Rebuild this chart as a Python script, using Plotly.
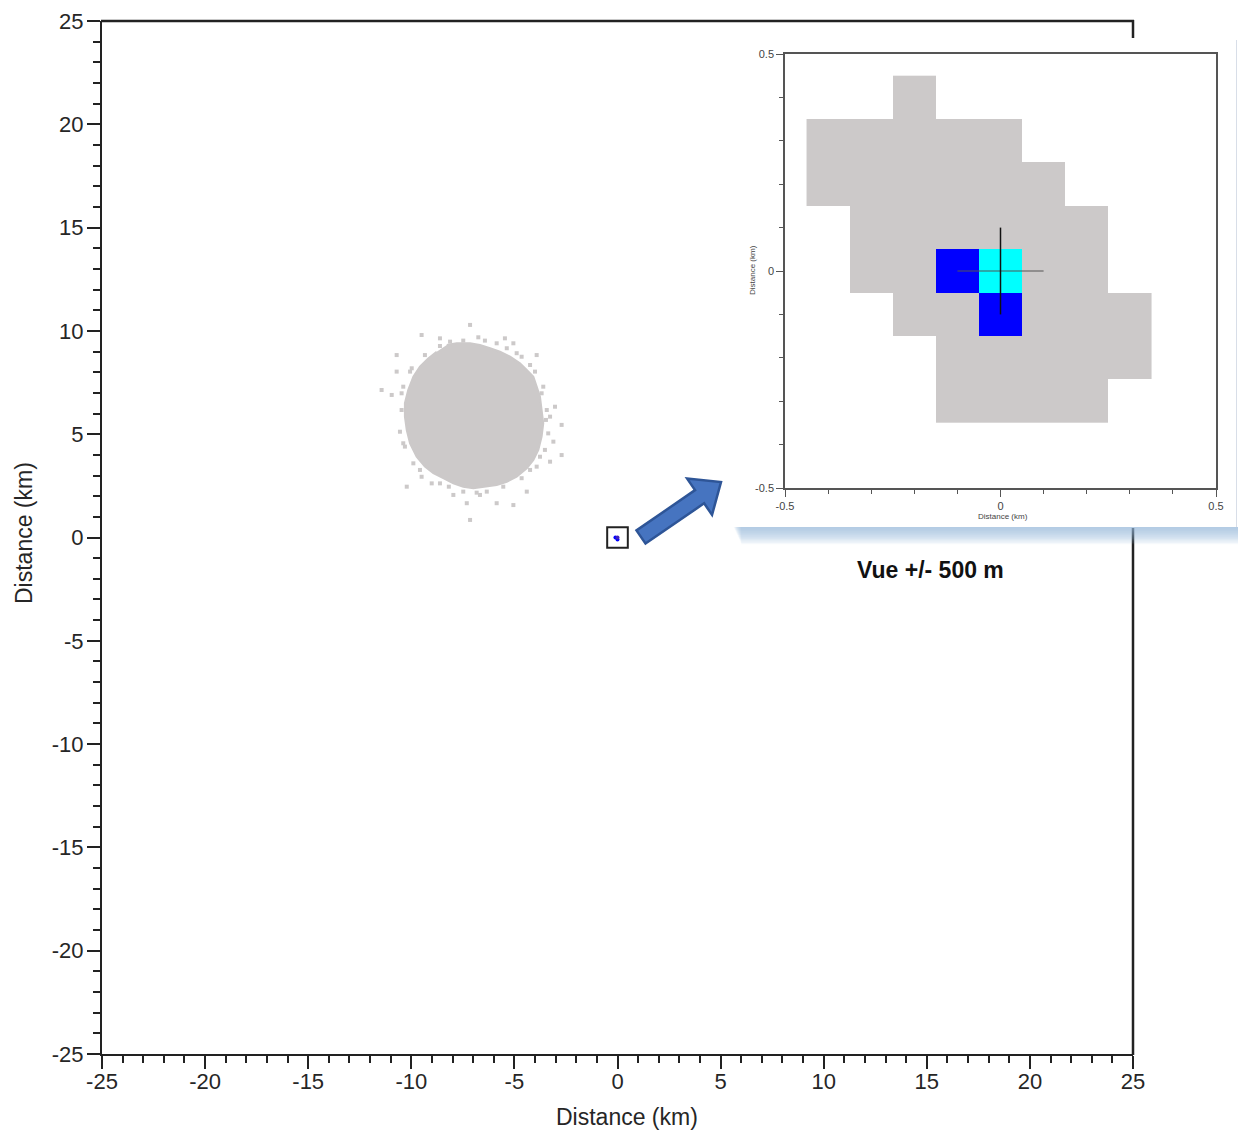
import math
import plotly.graph_objects as go

W, H = 1238, 1131

# ---------------- data (km) ----------------
# outline of the dense grey impact cloud
core_x = [-8.28, -7.80, -7.15, -6.67, -6.18, -5.70, -5.21, -4.73, -4.40, -4.08, -3.92, -3.76,
          -3.68, -3.60, -3.68, -3.84, -4.08, -4.40, -4.89, -5.37, -5.86, -6.34, -6.99, -7.48,
          -7.96, -8.45, -8.93, -9.34, -9.74, -10.06, -10.22, -10.31, -10.31, -10.15, -9.90,
          -9.58, -9.18, -8.77]
core_y = [9.32, 9.40, 9.40, 9.32, 9.16, 8.99, 8.75, 8.43, 8.11, 7.78, 7.30, 6.82,
          6.17, 5.53, 4.88, 4.24, 3.75, 3.35, 2.94, 2.70, 2.54, 2.46, 2.38, 2.46,
          2.62, 2.87, 3.11, 3.43, 3.91, 4.56, 5.20, 5.85, 6.50, 7.14, 7.78,
          8.27, 8.67, 8.99]

# isolated / edge grey points around the cloud
scatter_x = [-7.15, -9.50, -8.61, -6.75, -5.46, -5.05, -10.71, -10.71, -3.92, -11.44, -10.95,
             -3.03, -3.27, -2.71, -10.55, -3.11, -10.31, -2.71, -3.27, -10.22, -9.50, -9.01,
             -7.96, -7.31, -6.67, -5.86, -5.05, -4.40, -7.15,
             -8.12, -5.86, -4.65, -4.24, -3.60, -3.43, -3.36, -3.52, -3.92, -4.65, -6.34,
             -7.48, -8.61, -9.90, -10.47, -10.39, -10.06,
             -10.47, -10.39, -9.58, -8.18, -6.83, -5.54, -4.24, -3.76, -3.47, -3.68, -4.00,
             -4.89, -5.37, -6.43, -7.48, -8.61, -9.34, -9.98]
scatter_y = [10.29, 9.80, 9.64, 9.69, 9.64, 9.40, 8.83, 8.03, 8.83, 7.14, 6.90,
             6.33, 5.85, 5.45, 5.12, 4.64, 4.40, 3.99, 3.67, 2.46, 2.94, 2.62,
             2.06, 1.66, 2.06, 1.66, 1.57, 2.22, 0.85,
             9.48, 9.40, 8.75, 8.35, 7.30, 6.17, 5.04, 4.24, 3.43, 2.87, 2.22,
             2.22, 2.62, 3.59, 6.17, 7.30, 8.03,
             6.98, 4.56, 3.27, 2.46, 2.17, 2.46, 3.27, 3.91, 5.69, 6.98, 8.03,
             8.92, 9.16, 9.53, 9.53, 9.27, 8.83, 8.19]

# inset grid: cell centres (km) and class per cell (0 none, 1 grey, 2 blue, 3 cyan)
cell_x = [-0.4, -0.3, -0.2, -0.1, 0.0, 0.1, 0.2, 0.3]
cell_y = [-0.3, -0.2, -0.1, 0.0, 0.1, 0.2, 0.3, 0.4]
cell_codes = [
    [0, 0, 0, 1, 1, 1, 1, 0],   # y = -0.3
    [0, 0, 0, 1, 1, 1, 1, 1],   # y = -0.2
    [0, 0, 1, 1, 2, 1, 1, 1],   # y = -0.1
    [0, 1, 1, 2, 3, 1, 1, 0],   # y =  0.0
    [0, 1, 1, 1, 1, 1, 1, 0],   # y =  0.1
    [1, 1, 1, 1, 1, 1, 0, 0],   # y =  0.2
    [1, 1, 1, 1, 1, 0, 0, 0],   # y =  0.3
    [0, 0, 1, 0, 0, 0, 0, 0],   # y =  0.4
]
target = (0.0, 0.0)
cross_half = 0.1
view_half = 0.5

main_ticks = [-25, -20, -15, -10, -5, 0, 5, 10, 15, 20, 25]
main_tick_labels = ["-25", "-20", "-15", "-10", "-5", "0", "5", "10", "15", "20", "25"]
inset_ticks = [-0.5, 0, 0.5]
inset_tick_labels = ["-0.5", "0", "0.5"]

# ---------------- styling ----------------
GREY = "#CCC9C9"
BLUE = "#0000FF"
CYAN = "#00FFFF"
INK = "#222222"
FONT = "Arial, Liberation Sans, sans-serif"


def fx(px):
    return px / W


def fy(py):
    return 1 - py / H


fig = go.Figure()

# cloud core
fig.add_trace(go.Scatter(x=core_x, y=core_y, mode="lines", fill="toself",
                         fillcolor=GREY, line=dict(color=GREY, width=2),
                         hoverinfo="skip", xaxis="x", yaxis="y"))
# isolated points
fig.add_trace(go.Scatter(x=scatter_x, y=scatter_y, mode="markers",
                         marker=dict(symbol="square", size=4, color=GREY),
                         hoverinfo="skip", xaxis="x", yaxis="y"))
# coloured cells seen at main scale
hx, hy, hc = [], [], []
for j, row in enumerate(cell_codes):
    for i, c in enumerate(row):
        if c >= 2:
            hx.append(cell_x[i])
            hy.append(cell_y[j])
            hc.append(BLUE if c == 2 else "#4020C0")
fig.add_trace(go.Scatter(x=hx, y=hy, mode="markers",
                         marker=dict(symbol="circle", size=4, color=hc),
                         hoverinfo="skip", xaxis="x", yaxis="y"))

# inset heatmap
z = [[(c if c > 0 else None) for c in row] for row in cell_codes]
fig.add_trace(go.Heatmap(x=cell_x, y=cell_y, z=z, zmin=1, zmax=3,
                         colorscale=[[0, GREY], [0.25, GREY], [0.25, BLUE], [0.75, BLUE],
                                     [0.75, CYAN], [1, CYAN]],
                         showscale=False, hoverinfo="skip", xaxis="x2", yaxis="y2"))
# crosshair
fig.add_trace(go.Scatter(x=[target[0] - cross_half, target[0] + cross_half],
                         y=[target[1], target[1]], mode="lines",
                         line=dict(color="#555555", width=1.2),
                         hoverinfo="skip", xaxis="x2", yaxis="y2"))
fig.add_trace(go.Scatter(x=[target[0], target[0]],
                         y=[target[1] - cross_half, target[1] + cross_half], mode="lines",
                         line=dict(color="#111111", width=1.5),
                         hoverinfo="skip", xaxis="x2", yaxis="y2"))

main_axis = dict(range=[-25, 25], showgrid=False, zeroline=False, showline=True,
                 linecolor=INK, linewidth=2, ticks="outside", ticklen=13, tickwidth=2,
                 tickcolor=INK, tickmode="array", tickvals=main_ticks, ticktext=main_tick_labels,
                 tickfont=dict(family=FONT, size=22, color="#262626"),
                 minor=dict(tickmode="linear", tick0=0, dtick=1, ticks="outside",
                            ticklen=7, tickwidth=2, tickcolor=INK, showgrid=False),
                 automargin=False, fixedrange=True)
inset_axis = dict(range=[-0.5, 0.5], showgrid=False, zeroline=False, showline=True,
                  mirror=True, linecolor="#555555", linewidth=1.5, ticks="outside",
                  ticklen=7, tickwidth=1, tickcolor="#555555", tickmode="array",
                  tickvals=inset_ticks, ticktext=inset_tick_labels,
                  tickfont=dict(family=FONT, size=11, color="#444444"),
                  minor=dict(tickmode="linear", tick0=0, dtick=0.1, ticks="outside",
                             ticklen=4, tickwidth=1, tickcolor="#555555", showgrid=False),
                  automargin=False, fixedrange=True)

fig.update_layout(
    width=W, height=H, margin=dict(l=0, r=0, t=0, b=0, pad=0, autoexpand=False),
    paper_bgcolor="white", plot_bgcolor="white", showlegend=False,
    xaxis=dict(main_axis, domain=[fx(102), fx(1133)], anchor="y", ticklabelstandoff=-6),
    yaxis=dict(main_axis, domain=[fy(1054), fy(21)], anchor="x", ticklabelstandoff=-1),
    xaxis2=dict(inset_axis, domain=[fx(785), fx(1216)], anchor="y2"),
    yaxis2=dict(inset_axis, domain=[fy(488), fy(54)], anchor="x2"),
)

shapes = []
# main frame top / right (right partially hidden by inset)
shapes.append(dict(type="line", xref="paper", yref="paper", x0=fx(101), x1=fx(1134),
                   y0=fy(21), y1=fy(21), line=dict(color=INK, width=2.5), layer="below"))
shapes.append(dict(type="line", xref="paper", yref="paper", x0=fx(1133), x1=fx(1133),
                   y0=fy(20), y1=fy(40), line=dict(color=INK, width=2.5), layer="below"))
shapes.append(dict(type="line", xref="paper", yref="paper", x0=fx(1133), x1=fx(1133),
                   y0=fy(528), y1=fy(1055), line=dict(color=INK, width=2.5), layer="below"))
# inset shadow (soft gradient) and panel
for k in range(1, 15):
    shapes.append(dict(type="rect", xref="paper", yref="paper", x0=fx(733 + 0.6 * k), x1=fx(1238),
                       y0=fy(526 + 1.3 * k), y1=fy(526), fillcolor="#9BB6E0", opacity=0.085,
                       line=dict(width=0), layer="below"))
shapes.append(dict(type="rect", xref="paper", yref="paper", x0=fx(731), x1=fx(1238),
                   y0=fy(527), y1=fy(38), fillcolor="white", line=dict(width=0), layer="below"))
shapes.append(dict(type="line", xref="paper", yref="paper", x0=fx(1236.5), x1=fx(1236.5),
                   y0=fy(527), y1=fy(40), line=dict(color="#D8DEE8", width=1), layer="below"))
# zoom box around the target on main chart
shapes.append(dict(type="rect", xref="x", yref="y", x0=target[0] - view_half,
                   x1=target[0] + view_half, y0=target[1] - view_half, y1=target[1] + view_half,
                   line=dict(color=INK, width=2)))

# block arrow (pixel geometry)
S = (641.0, 537.0)
T = (721.0, 482.0)
dx, dy = T[0] - S[0], T[1] - S[1]
L = math.hypot(dx, dy)
ux, uy = dx / L, dy / L
nx, ny = -uy, ux
sw, hw, hl = 8.0, 22.0, 26.0
bx, by = T[0] - hl * ux, T[1] - hl * uy
pts = [(S[0] + sw * nx, S[1] + sw * ny), (bx + sw * nx, by + sw * ny),
       (bx + hw * nx, by + hw * ny), T, (bx - hw * nx, by - hw * ny),
       (bx - sw * nx, by - sw * ny), (S[0] - sw * nx, S[1] - sw * ny)]
path = "M " + " L ".join(f"{fx(p[0]):.5f},{fy(p[1]):.5f}" for p in pts) + " Z"
shapes.append(dict(type="path", xref="paper", yref="paper", path=path,
                   fillcolor="#4674C0", line=dict(color="#2E5597", width=2.5)))
fig.update_layout(shapes=shapes)

ann = []
ann.append(dict(text="Distance (km)", xref="paper", yref="paper", x=fx(627), y=fy(1117),
                showarrow=False, xanchor="center", yanchor="middle",
                font=dict(family=FONT, size=23, color="#262626")))
ann.append(dict(text="Distance (km)", xref="paper", yref="paper", x=fx(24), y=fy(533),
                showarrow=False, xanchor="center", yanchor="middle", textangle=-90,
                font=dict(family=FONT, size=23, color="#262626")))
ann.append(dict(text="Distance (km)", xref="paper", yref="paper", x=fx(1003), y=fy(517),
                showarrow=False, xanchor="center", yanchor="middle",
                font=dict(family=FONT, size=8, color="#444444")))
ann.append(dict(text="Distance (km)", xref="paper", yref="paper", x=fx(752), y=fy(270),
                showarrow=False, xanchor="center", yanchor="middle", textangle=-90,
                font=dict(family=FONT, size=8, color="#444444")))
ann.append(dict(text="<b>Vue +/- 500 m</b>", xref="paper", yref="paper", x=fx(930), y=fy(570),
                showarrow=False, xanchor="center", yanchor="middle",
                font=dict(family=FONT, size=23, color="#111111")))
fig.update_layout(annotations=ann)

fig.write_html("out.html")
